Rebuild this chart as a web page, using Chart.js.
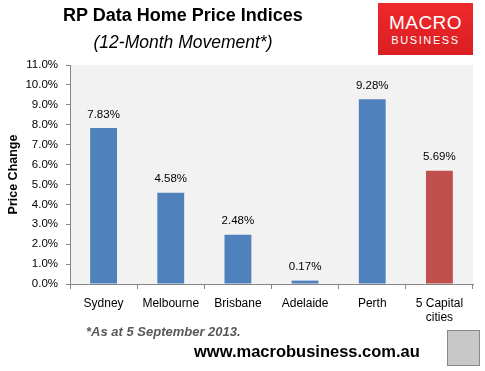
<!DOCTYPE html>
<html>
<head>
<meta charset="utf-8">
<script src="https://cdn.jsdelivr.net/npm/chart.js@4.4.0/dist/chart.umd.min.js"></script>
<style>
  body { margin: 0; background: #fff; }
  #wrap { position: relative; width: 485px; height: 371px; overflow: hidden; font-family: "Liberation Sans", Arial, sans-serif; }
  canvas { position: absolute; left: 0; top: 0; }
  .t { position: absolute; white-space: nowrap; }
  #title { left: 58px; top: 5px; width: 250px; text-align: center; font-weight: bold; font-size: 18px; color: #000; }
  #sub { left: 58px; top: 32px; width: 250px; text-align: center; font-style: italic; font-size: 17.5px; color: #000; }
  #logo { position: absolute; left: 378px; top: 3px; width: 95px; height: 52px; background: linear-gradient(#f0292c, #d91e22); color: #fff; text-align: center; }
  #logo .a { font-size: 19px; letter-spacing: 0.5px; margin-top: 10px; line-height: 20px; }
  #logo .b { font-size: 11px; letter-spacing: 1.6px; line-height: 14px; }
  #note { left: 86px; top: 324px; font-weight: bold; font-style: italic; font-size: 13px; color: #595959; }
  #url { left: 194px; top: 342px; font-weight: bold; font-size: 16.5px; color: #000; }
  #wolf { position: absolute; left: 447px; top: 330px; width: 33px; height: 36px; background: #c8c8c8; border: 1px solid #888; box-sizing: border-box; }
</style>
</head>
<body>
<div id="wrap">
  <canvas id="c" width="485" height="371"></canvas>
  <div class="t" id="title">RP Data Home Price Indices</div>
  <div class="t" id="sub">(12-Month Movement*)</div>
  <div id="logo"><div class="a">MACRO</div><div class="b">BUSINESS</div></div>
  <div class="t" id="note">*As at 5 September 2013.</div>
  <div class="t" id="url">www.macrobusiness.com.au</div>
  <div id="wolf"></div>
</div>
<script>
const cities = ['Sydney', 'Melbourne', 'Brisbane', 'Adelaide', 'Perth', ['5 Capital', 'cities']];
const change = [7.83, 4.58, 2.48, 0.17, 9.28, 5.69];
const barColors = ['#4f81bd', '#4f81bd', '#4f81bd', '#4f81bd', '#4f81bd', '#c0504d'];

const plotBg = {
  id: 'plotBg',
  beforeDraw(chart) {
    const a = chart.chartArea, ctx = chart.ctx;
    ctx.save();
    ctx.fillStyle = '#f2f2f2';
    ctx.fillRect(a.left, a.top, a.right - a.left, a.bottom - a.top);
    ctx.restore();
  }
};

const barLabels = {
  id: 'barLabels',
  afterDatasetsDraw(chart) {
    const ctx = chart.ctx;
    ctx.save();
    ctx.font = '11.5px "Liberation Sans", Arial, sans-serif';
    ctx.fillStyle = '#000';
    ctx.textAlign = 'center';
    ctx.textBaseline = 'bottom';
    chart.getDatasetMeta(0).data.forEach((bar, i) => {
      ctx.fillText(change[i].toFixed(2) + '%', bar.x, bar.y - 8);
    });
    ctx.restore();
  }
};

new Chart(document.getElementById('c'), {
  type: 'bar',
  data: {
    labels: cities,
    datasets: [{
      data: change,
      backgroundColor: barColors,
      categoryPercentage: 1,
      barPercentage: 0.4
    }]
  },
  options: {
    responsive: false,
    animation: false,
    layout: { padding: { top: 65, right: 12, left: 0, bottom: 0 } },
    plugins: { legend: { display: false }, tooltip: { enabled: false } },
    scales: {
      x: {
        afterFit(s) { s.height = 87; },
        border: { color: '#868686' },
        grid: { display: true, drawOnChartArea: false, tickLength: 5, color: '#868686', offset: true },
        ticks: { color: '#000', font: { family: '"Liberation Sans", Arial, sans-serif', size: 12 }, padding: 7, maxRotation: 0 }
      },
      y: {
        min: 0,
        max: 11,
        afterFit(s) { s.width = 70; },
        border: { color: '#868686' },
        grid: { display: true, drawOnChartArea: false, tickLength: 4, color: '#868686' },
        ticks: {
          stepSize: 1,
          color: '#000',
          padding: 8,
          font: { family: '"Liberation Sans", Arial, sans-serif', size: 11.5 },
          callback: v => v.toFixed(1) + '%'
        },
        title: {
          display: true,
          text: 'Price Change',
          color: '#000',
          font: { family: '"Liberation Sans", Arial, sans-serif', size: 12.5, weight: 'bold' },
          padding: { top: 6, bottom: 0 }
        }
      }
    }
  },
  plugins: [plotBg, barLabels]
});
</script>
</body>
</html>
